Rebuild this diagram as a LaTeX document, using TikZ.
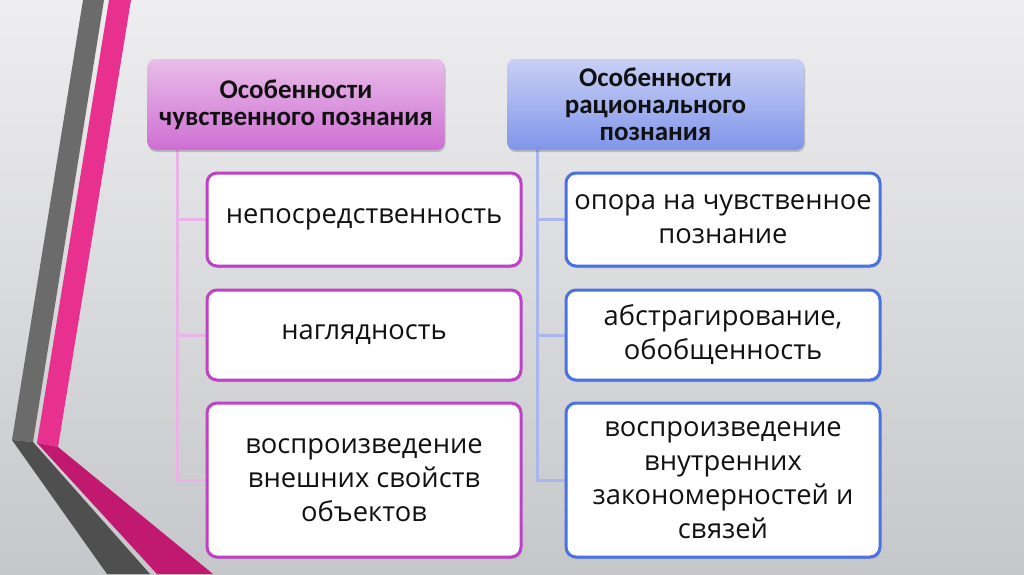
\documentclass[tikz,border=0pt]{standalone}
\usepackage{fontspec}
\setmainfont{Open Sans}
\newfontfamily\hdfont{Carlito}
\usetikzlibrary{shadows,backgrounds}
\definecolor{bgtop}{HTML}{EEEEF0}
\definecolor{bgbot}{HTML}{C6C7CA}
\definecolor{grayv}{HTML}{6B6B6B}
\definecolor{grayd}{HTML}{4F4F4F}
\definecolor{pinkv}{HTML}{E8308F}
\definecolor{pinkd}{HTML}{C0196F}
\definecolor{hlTop}{HTML}{E9BDE9}
\definecolor{hlBot}{HTML}{CE6ED3}
\definecolor{hrTop}{HTML}{C8D0F5}
\definecolor{hrBot}{HTML}{8195EA}
\definecolor{lborder}{HTML}{C040C8}
\definecolor{rborder}{HTML}{4A72E0}
\definecolor{lline}{HTML}{E8B4E8}
\definecolor{rline}{HTML}{AAB6EC}
\definecolor{txt}{HTML}{111111}
\begin{document}
\begin{tikzpicture}[x=1pt,y=-1pt,
  header/.style={rounded corners=8pt, minimum width=297pt, minimum height=91pt,
    align=center, text=txt, inner sep=0pt,
    font=\hdfont\bfseries\fontsize{27}{27}\selectfont,
    drop shadow={shadow xshift=1pt, shadow yshift=-2pt, opacity=0.18, fill=black}},
  hdleft/.style={header, top color=hlTop, bottom color=hlBot},
  hdright/.style={header, top color=hrTop, bottom color=hrBot},
  itembox/.style={rounded corners=10pt, fill=white, line width=3pt,
    minimum width=314pt, align=center, text=txt, inner sep=0pt,
    font=\fontsize{27.3}{34}\selectfont,
    drop shadow={shadow xshift=1pt, shadow yshift=-2pt, opacity=0.15, fill=black}},
  boxleft/.style={itembox, draw=lborder},
  boxright/.style={itembox, draw=rborder},
  linkl/.style={draw=lline, line width=3pt},
  linkr/.style={draw=rline, line width=3pt}
]
\useasboundingbox (0,0) rectangle (1024,574);

% headers
\node[hdleft] (h1) at (296,104.5) {Особенности\\чувственного познания};
\node[hdright] (h2) at (655.5,104.5) {Особенности\\рационального\\познания};

% left boxes
\node[boxleft, minimum height=93pt] (l1) at (364,219.5) {непосредственность};
\node[boxleft, minimum height=90pt] (l2) at (364,335) {наглядность};
\node[boxleft, minimum height=154pt] (l3) at (364,480) {воспроизведение\\внешних свойств\\объектов};

% right boxes
\node[boxright, minimum height=93pt] (r1) at (723,219.5) {опора на чувственное\\познание};
\node[boxright, minimum height=90pt] (r2) at (723,335) {абстрагирование,\\обобщенность};
\node[boxright, minimum height=154pt] (r3) at (723,480) {воспроизведение\\внутренних\\закономерностей и\\связей};

\begin{scope}[on background layer]
  \shade[top color=bgtop, bottom color=bgbot] (0,0) rectangle (1024,574);
  % decorative stripes
  \fill[grayv] (83,0) -- (104,0) -- (33,442) -- (12,440) -- cycle;
  \fill[grayd] (12,440) -- (33,442) -- (150,574) -- (107,574) -- cycle;
  \fill[pinkv] (109,0) -- (131,0) -- (58,447) -- (37,443) -- cycle;
  \fill[pinkd] (37,443) -- (58,447) -- (213,574) -- (157,574) -- cycle;
  % connectors
  \coordinate (lt) at ([xshift=-119pt]h1.south);
  \coordinate (rt) at ([xshift=-118.5pt]h2.south);
  \draw[linkl] (lt) |- (l3.west);
  \draw[linkl] (l1.west) -- (l1.west -| lt);
  \draw[linkl] (l2.west) -- (l2.west -| lt);
  \draw[linkr] (rt) |- (r3.west);
  \draw[linkr] (r1.west) -- (r1.west -| rt);
  \draw[linkr] (r2.west) -- (r2.west -| rt);
\end{scope}
\end{tikzpicture}
\end{document}
